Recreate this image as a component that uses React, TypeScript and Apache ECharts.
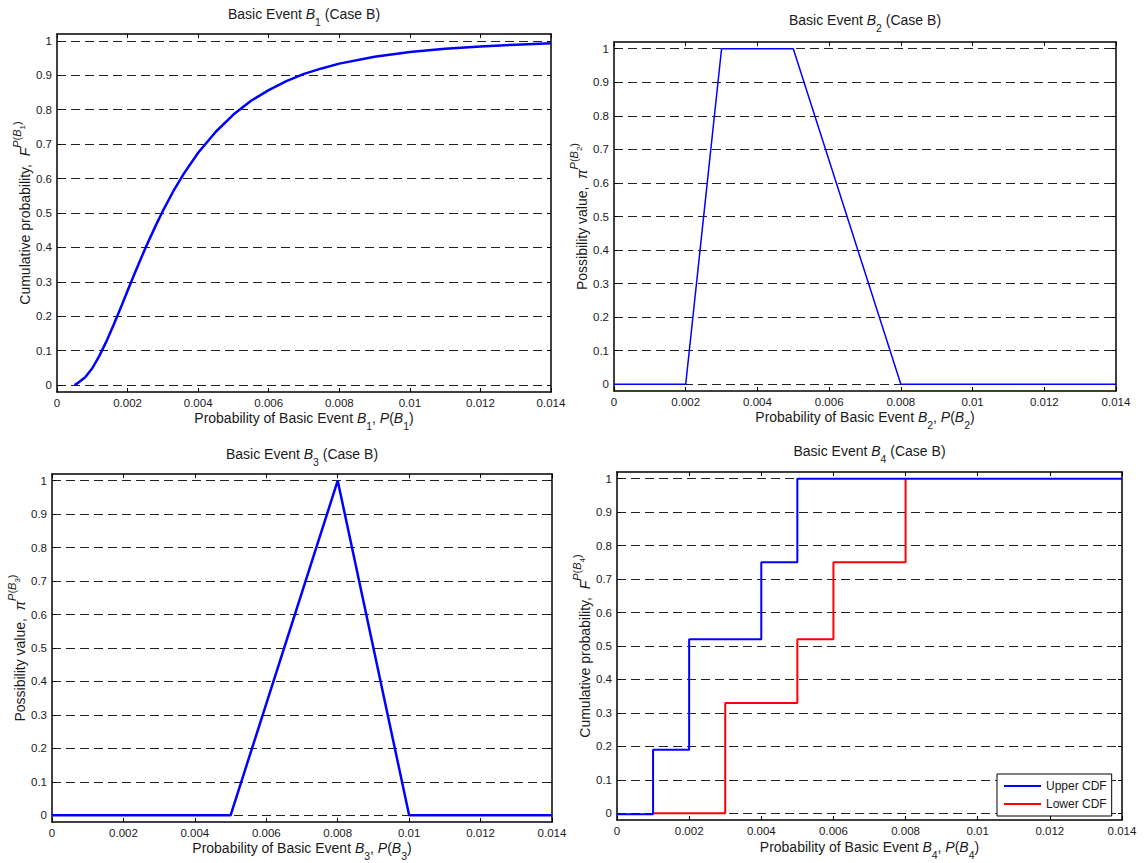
import React, { useEffect, useRef } from "react";
import * as echarts from "echarts";

// ---------- data ----------
const xTicks = [0, 0.002, 0.004, 0.006, 0.008, 0.01, 0.012, 0.014];
const yTicks = [0, 0.1, 0.2, 0.3, 0.4, 0.5, 0.6, 0.7, 0.8, 0.9, 1];

// B1: cumulative distribution
const b1X = [0.0005, 0.0006, 0.0008, 0.001, 0.0012, 0.0014, 0.0016, 0.0018, 0.002, 0.0022, 0.0025, 0.0028, 0.003, 0.0033, 0.0036, 0.004, 0.0045, 0.005, 0.0055, 0.006, 0.0065, 0.007, 0.0075, 0.008, 0.009, 0.01, 0.011, 0.012, 0.013, 0.014];
const b1Y = [0, 0.007, 0.023, 0.049, 0.085, 0.127, 0.174, 0.223, 0.274, 0.324, 0.397, 0.464, 0.506, 0.564, 0.615, 0.675, 0.736, 0.786, 0.826, 0.857, 0.883, 0.904, 0.92, 0.934, 0.954, 0.968, 0.977, 0.984, 0.989, 0.993];

// B2: trapezoidal possibility distribution
const b2X = [0, 0.002, 0.003, 0.005, 0.008, 0.014];
const b2Y = [0, 0, 1, 1, 0, 0];

// B3: triangular possibility distribution
const b3X = [0, 0.005, 0.008, 0.01, 0.014];
const b3Y = [0, 0, 1, 0, 0];

// B4: upper / lower CDF (step functions)
const b4UpperX = [0, 0.001, 0.002, 0.004, 0.005, 0.014];
const b4UpperY = [-0.003, 0.19, 0.52, 0.75, 1, 1];
const b4LowerX = [0.001, 0.003, 0.005, 0.006, 0.008];
const b4LowerY = [0, 0.33, 0.52, 0.75, 1];

const titles = ["1", "2", "3", "4"];
const yNames = ["cdf", "poss", "poss", "cdf"];
const legendNames = ["Upper CDF", "Lower CDF"];

// ---------- layout ----------
const grids = [
  { left: 57, top: 34, width: 494, height: 358 },
  { left: 614, top: 42, width: 502, height: 349 },
  { left: 52, top: 474, width: 500, height: 348 },
  { left: 617, top: 472, width: 505, height: 348 },
];
const titleTops = [7, 13, 447, 444];
const yNameGaps = [26, 20, 27, 23];
const xNameGaps = [19, 19, 19, 20];

const TXT = "#1a1a1a";
const FONT = "'Liberation Sans', Arial, sans-serif";

const tok = { color: TXT, fontFamily: FONT, fontWeight: "normal" as const };
// rich styles for titles / x names (subscripts)
const richSub = {
  n: { ...tok, fontSize: 14, lineHeight: 16, verticalAlign: "top" },
  i: { ...tok, fontSize: 14, fontStyle: "italic", lineHeight: 16, verticalAlign: "top" },
  sub: { ...tok, fontSize: 10.5, lineHeight: 11, verticalAlign: "top", padding: [9, 0, 0, 0] },
};
// rich styles for y names (superscripts)
const richSup = {
  n: { ...tok, fontSize: 14, lineHeight: 16, verticalAlign: "top", padding: [7, 0, 0, 0] },
  i: { ...tok, fontSize: 14, fontStyle: "italic", lineHeight: 16, verticalAlign: "top", padding: [7, 0, 0, 0] },
  sup: { ...tok, fontSize: 11, lineHeight: 11, verticalAlign: "top" },
  supi: { ...tok, fontSize: 11, fontStyle: "italic", lineHeight: 11, verticalAlign: "top" },
  supsub: { ...tok, fontSize: 8, lineHeight: 8, verticalAlign: "top", padding: [7, 0, 0, 0] },
};

function titleText(k: string) {
  return `{n|Basic Event }{i|B}{sub|${k}}{n| (Case B)}`;
}
function xNameText(k: string) {
  return `{n|Probability of Basic Event }{i|B}{sub|${k}}{n|, }{i|P}{n|(}{i|B}{sub|${k}}{n|)}`;
}
function yNameText(kind: string, k: string) {
  const sup = `{supi|P}{sup|(}{supi|B}{supsub|${k}}{sup|)}`;
  if (kind === "cdf") return `{n|Cumulative probability,  }{i|F}${sup}`;
  return `{n|Possibility value,  }{i|π}${sup}`;
}

function fmtX(v: number) {
  return String(parseFloat(v.toFixed(4)));
}

function zip(xs: number[], ys: number[]) {
  return xs.map((x, i) => [x, ys[i]]);
}

export default function App() {
  const ref = useRef<HTMLDivElement>(null);
  useEffect(() => {
    if (!ref.current) return;
    const chart = echarts.init(ref.current, undefined, { renderer: "svg" });

    const xAxis: any[] = [];
    const yAxis: any[] = [];
    grids.forEach((_, gi) => {
      const base = {
        gridIndex: gi,
        type: "value",
        min: xTicks[0],
        max: xTicks[xTicks.length - 1],
        interval: xTicks[1] - xTicks[0],
        axisLine: { show: true, onZero: false, lineStyle: { color: "#000", width: 1.5 } },
        axisTick: { show: true, inside: true, length: 4, lineStyle: { color: "#000", width: 1 } },
        splitLine: { show: false },
      };
      xAxis.push({
        ...base,
        position: "bottom",
        axisLabel: { show: true, fontSize: 11.5, color: TXT, fontFamily: FONT, margin: 5, formatter: fmtX },
        name: xNameText(titles[gi]),
        nameLocation: "middle",
        nameGap: xNameGaps[gi],
        nameMoveOverlap: false,
        nameTextStyle: { rich: richSub },
      });
      xAxis.push({ ...base, position: "top", axisLabel: { show: false } });

      const ybase = {
        gridIndex: gi,
        type: "value",
        min: -0.02,
        max: 1.02,
        axisLine: { show: true, onZero: false, lineStyle: { color: "#000", width: 1.5 } },
        axisTick: { show: true, inside: true, length: 4, customValues: yTicks, lineStyle: { color: "#000", width: 1 } },
      };
      yAxis.push({
        ...ybase,
        position: "left",
        axisLabel: { show: true, customValues: yTicks, fontSize: 11.5, color: TXT, fontFamily: FONT, margin: 5 },
        splitLine: { show: true, lineStyle: { type: [9, 5], color: "#222", width: 1 } },
        name: yNameText(yNames[gi], titles[gi]),
        nameLocation: "middle",
        nameGap: yNameGaps[gi],
        nameTextStyle: { rich: richSup },
      });
      yAxis.push({ ...ybase, position: "right", axisLabel: { show: false }, splitLine: { show: false } });
    });

    const lineSeries = (gi: number, name: string, data: number[][], color: string, width: number, extra: any = {}) => ({
      type: "line",
      name,
      xAxisIndex: gi * 2,
      yAxisIndex: gi * 2,
      data,
      symbol: "none",
      lineStyle: { color, width },
      itemStyle: { color },
      ...extra,
    });

    const option: any = {
      animation: false,
      backgroundColor: "#fff",
      textStyle: { fontFamily: FONT },
      title: grids.map((g, gi) => ({
        text: titleText(titles[gi]),
        left: g.left + g.width / 2,
        top: titleTops[gi],
        textAlign: "center",
        textStyle: { rich: richSub, fontWeight: "normal" },
        padding: 0,
      })),
      grid: grids.map((g) => ({ ...g, containLabel: false })),
      xAxis,
      yAxis,
      legend: {
        data: legendNames.map((n) => ({ name: n, icon: "rect" })),
        orient: "vertical",
        left: 997,
        top: 774,
        padding: [5, 5, 5, 7],
        itemGap: 4,
        itemWidth: 37,
        itemHeight: 2,
        borderColor: "#000",
        borderWidth: 1,
        backgroundColor: "#fff",
        textStyle: { fontSize: 12, color: TXT, fontFamily: FONT, lineHeight: 14 },
        z: 10,
      },
      series: [
        lineSeries(0, "B1", zip(b1X, b1Y), "#0000ff", 2.5),
        lineSeries(1, "B2", zip(b2X, b2Y), "#0000ff", 1.5),
        lineSeries(2, "B3", zip(b3X, b3Y), "#0000ff", 2.5),
        lineSeries(3, legendNames[1], zip(b4LowerX, b4LowerY), "#ff0000", 2, { step: "end" }),
        lineSeries(3, legendNames[0], zip(b4UpperX, b4UpperY), "#0000ff", 2, { step: "end" }),
      ],
    };
    chart.setOption(option);
    return () => chart.dispose();
  }, []);
  return (
    <div
      ref={ref}
      style={{ position: "fixed", left: 0, top: 0, width: 1144, height: 863, background: "#fff" }}
    />
  );
}
